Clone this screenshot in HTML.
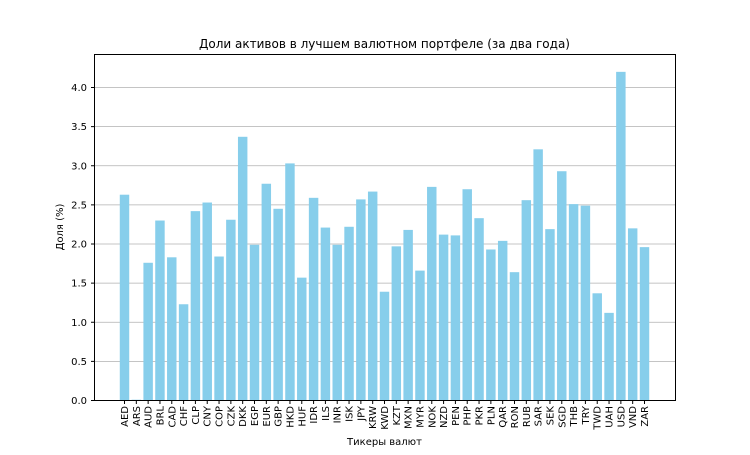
<!DOCTYPE html>
<html><head><meta charset="utf-8"><style>
body{margin:0;background:#fff;}
text{font-family:"DejaVu Sans","Liberation Sans",sans-serif;fill:#000;}
</style></head><body>
<svg id="chart" width="750" height="450" xmlns="http://www.w3.org/2000/svg">
<rect width="750" height="450" fill="#fff"/>
<text x="384.5" y="48" font-size="12" text-anchor="middle">Доли активов в лучшем валютном портфеле (за два года)</text>
<text x="384.5" y="445" font-size="10" text-anchor="middle">Тикеры валют</text>
<text transform="translate(63,227) rotate(-90)" font-size="10" text-anchor="middle">Доля (%)</text>
<g id="grid"></g><g id="bars"></g><g id="xt"></g><g id="yt"></g>
<rect x="94.5" y="54.5" width="581" height="346" fill="none" stroke="#000" stroke-width="1"/>
</svg>
<script>
const categories=["AED","ARS","AUD","BRL","CAD","CHF","CLP","CNY","COP","CZK","DKK","EGP","EUR","GBP","HKD","HUF","IDR","ILS","INR","ISK","JPY","KRW","KWD","KZT","MXN","MYR","NOK","NZD","PEN","PHP","PKR","PLN","QAR","RON","RUB","SAR","SEK","SGD","THB","TRY","TWD","UAH","USD","VND","ZAR"];
const values=[2.63,0.01,1.76,2.30,1.83,1.23,2.42,2.53,1.84,2.31,3.37,1.99,2.77,2.45,3.03,1.57,2.59,2.21,1.99,2.22,2.57,2.67,1.39,1.97,2.18,1.66,2.73,2.12,2.11,2.70,2.33,1.93,2.04,1.64,2.56,3.21,2.19,2.93,2.51,2.49,1.37,1.12,4.20,2.20,1.96];
const yTicks=["0.0","0.5","1.0","1.5","2.0","2.5","3.0","3.5","4.0"];
const NS="http://www.w3.org/2000/svg";
const x0=124.5,step=(644.5-124.5)/44;
function xs(i){return x0+i*step;}
function ys(v){return 400.5-v*78.25;}
function mk(t,a,p){const e=document.createElementNS(NS,t);for(const k in a)e.setAttribute(k,a[k]);document.getElementById(p).appendChild(e);return e;}
yTicks.forEach(t=>{const y=ys(parseFloat(t));
 const g=mk("line",{x1:94.5,x2:675.5,y1:y,y2:y,stroke:"#b0b0b0","stroke-width":0.8},"grid");
 
 
 mk("line",{x1:91,x2:94.5,y1:y,y2:y,stroke:"#000"},"yt");
 const l=mk("text",{x:87,y:y+3.5,"font-size":10,"text-anchor":"end"},"yt");l.textContent=t;
 
 
});
categories.forEach((c,i)=>{const x=xs(i),w=step*0.8,v=values[i];
 const b=mk("rect",{x:x-w/2,y:ys(v),width:w,height:400.5-ys(v),fill:"#87ceeb"},"bars");
 
 
 mk("line",{x1:x,x2:x,y1:400.5,y2:404,stroke:"#000"},"xt");
 const l=mk("text",{transform:`translate(${x+3.5},406) rotate(-90)`,"font-size":10,"text-anchor":"end"},"xt");l.textContent=c;
 
 
});
</script>
</body></html>
